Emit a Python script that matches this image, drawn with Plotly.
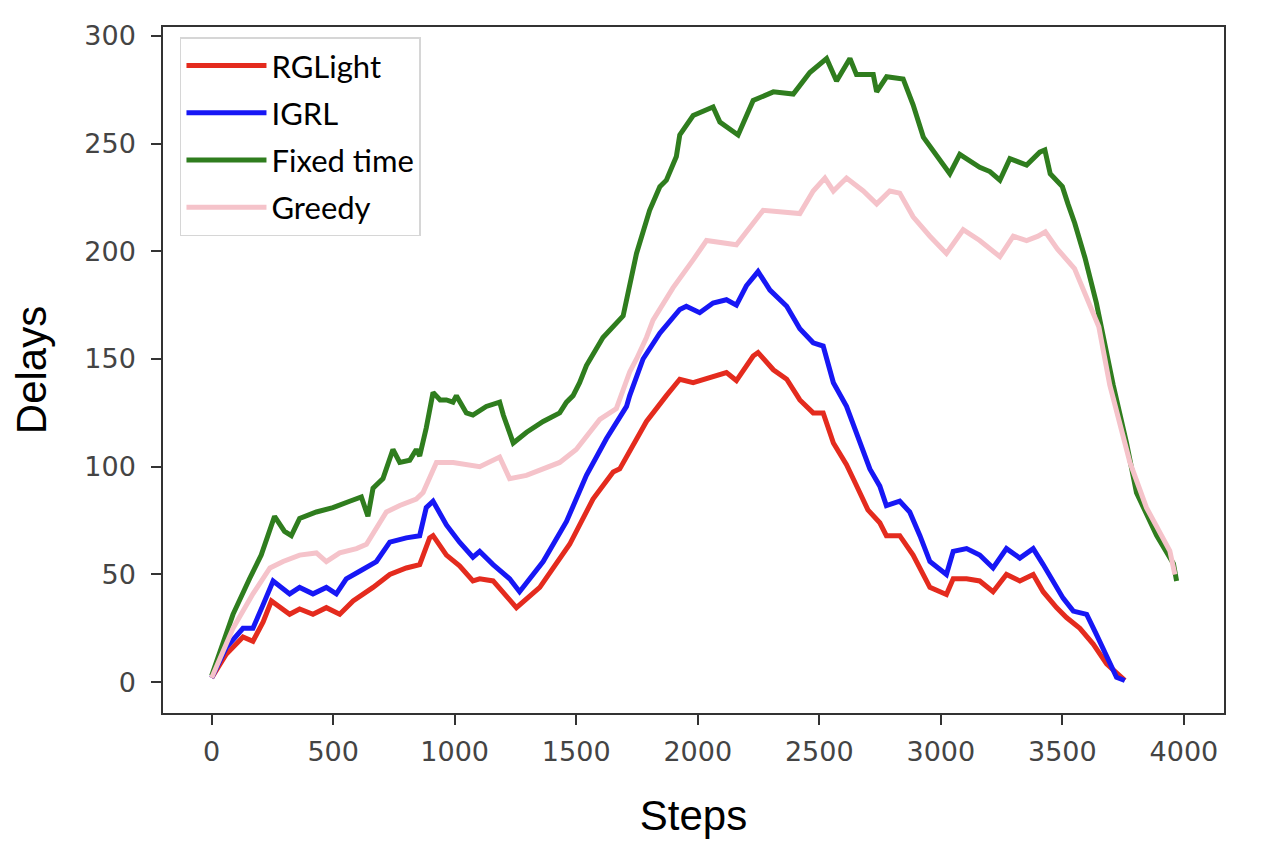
import plotly.graph_objects as go

# values (steps -> delays)
steps_rglight = [0, 60, 129, 170, 212, 246, 321, 362, 417, 472, 527, 582, 664, 733, 801, 856, 897, 911,
                 966, 1020, 1075, 1103, 1158, 1254, 1350, 1473, 1569, 1652, 1679, 1761, 1789, 1871, 1926,
                 1981, 2063, 2118, 2159, 2228, 2248, 2311, 2366, 2420, 2475, 2516, 2558, 2612, 2650, 2700,
                 2749, 2776, 2831, 2886, 2955, 3023, 3051, 3106, 3160, 3215, 3270, 3325, 3380, 3421, 3476,
                 3517, 3572, 3627, 3682, 3737, 3757]
delays_rglight = [2, 13, 21, 19, 28, 37.7, 31.5, 34, 31.5, 34.6, 31.5, 37.7, 44, 50, 53, 54.6, 67, 68,
                  59, 54, 47, 48, 47, 34.6, 44, 64, 85, 97.6, 99, 116, 121, 133, 140.6,
                  139, 142, 143.7, 140, 151.4, 153, 145, 140.6, 131, 125, 125, 111, 101, 92, 80,
                  74, 68, 68, 59, 44, 40.7, 48, 48, 47, 42, 50, 47, 50, 42, 34.6,
                  30, 25, 17.7, 8.5, 2.3, 0.8]

steps_igrl = [0, 60, 129, 170, 212, 253, 321, 362, 417, 472, 513, 554, 609, 678, 733, 801, 856, 883, 911,
              966, 1020, 1075, 1103, 1158, 1226, 1267, 1364, 1460, 1542, 1624, 1707, 1720, 1775, 1844,
              1926, 1953, 2008, 2063, 2118, 2159, 2200, 2248, 2297, 2366, 2420, 2475, 2516, 2558, 2612,
              2667, 2708, 2749, 2776, 2831, 2872, 2914, 2955, 3023, 3051, 3106, 3160, 3215, 3270, 3325,
              3380, 3421, 3463, 3503, 3545, 3600, 3641, 3682, 3723, 3757]
delays_igrl = [2, 16, 25, 25, 36, 47, 41, 44, 41, 44, 41, 48, 51.5, 56, 65, 67, 68, 81, 84,
               73, 65, 58, 60.7, 54.6, 48, 42, 56, 74.6, 96, 113, 128, 133, 150, 162,
               173, 174.5, 171.5, 176, 177.5, 175, 184, 190.6, 182, 174.5, 164, 157.5, 156, 139, 128,
               111, 99, 91, 82, 84, 79, 68, 56, 50, 60.7, 62, 59, 53, 62, 57.6,
               62, 54.6, 47, 39, 33, 31.5, 22, 11.5, 2.3, 0.8]

steps_fixed = [0, 50, 88, 156, 204, 259, 300, 328, 362, 431, 499, 568, 616, 643, 664, 705, 746, 774, 815,
               842, 856, 883, 911, 940, 966, 993, 1007, 1048, 1075, 1130, 1185, 1200, 1241, 1296, 1364,
               1432, 1460, 1487, 1514, 1542, 1610, 1693, 1748, 1802, 1844, 1871, 1912, 1926, 1981, 2063,
               2091, 2166, 2228, 2311, 2393, 2461, 2530, 2571, 2626, 2653, 2722, 2736, 2777, 2845, 2886,
               2928, 2983, 3037, 3078, 3160, 3202, 3243, 3284, 3353, 3407, 3428, 3450, 3500, 3523, 3551,
               3593, 3621, 3640, 3709, 3764, 3805, 3888, 3957, 3970]
delays_fixed = [3, 20, 31.5, 48, 59, 77, 70, 68, 76, 79, 81, 84, 86, 77, 90, 94.5, 108, 102, 103,
                108, 105, 118, 134.5, 131, 131, 130, 133, 125, 124, 128, 130, 124, 111, 116, 121,
                125, 130, 133, 139, 147, 160, 170, 199, 219, 230, 233, 244, 254, 263, 267,
                260, 254, 270, 274, 273, 283, 289.5, 279, 289.5, 282, 282, 274, 281, 280, 268,
                253, 244, 236, 245, 239, 237, 233, 243, 240, 246, 247, 236, 230, 222, 213,
                197, 183, 176, 138, 111, 88, 68, 55, 47]

steps_greedy = [0, 88, 170, 240, 294, 362, 431, 472, 527, 596, 637, 678, 719, 774, 842, 870, 925, 994,
                1048, 1103, 1185, 1226, 1295, 1432, 1500, 1597, 1665, 1720, 1748, 1789, 1816, 1898, 1981,
                2036, 2159, 2200, 2269, 2420, 2475, 2523, 2558, 2612, 2681, 2736, 2790, 2831, 2886, 2955,
                3023, 3092, 3160, 3243, 3298, 3353, 3400, 3430, 3480, 3550, 3606, 3650, 3695, 3778, 3846,
                3942, 3963]
delays_greedy = [2, 25, 41, 53, 56, 59, 60, 56, 60, 62, 64, 71.5, 79, 82, 85, 88, 102, 102,
                 101, 100, 104.5, 94.5, 96, 102, 108, 122, 127, 144, 150, 160, 168, 183, 196,
                 205, 203, 209, 219, 217.5, 228, 234, 228, 234, 228, 222, 228, 227, 216, 207,
                 199, 210, 205, 197.5, 207, 205, 207, 209, 201, 192, 176, 165, 138, 102, 81,
                 61, 50]

x_ticks = [0, 500, 1000, 1500, 2000, 2500, 3000, 3500, 4000]
y_ticks = [0, 50, 100, 150, 200, 250, 300]

series = [
    ("RGLight", steps_rglight, delays_rglight, "#e42b1e"),
    ("IGRL", steps_igrl, delays_igrl, "#1717f5"),
    ("Fixed time", steps_fixed, delays_fixed, "#2f7d1e"),
    ("Greedy", steps_greedy, delays_greedy, "#f5c3ca"),
]

fig = go.Figure()
for name, xs, ys, color in series:
    fig.add_trace(go.Scatter(x=xs, y=ys, mode="lines", name=name, legendgroup=name,
                             line=dict(color=color, width=5)))

axis_style = dict(
    showline=True, linecolor="#333333", linewidth=1.5, mirror=True,
    ticks="outside", ticklen=10, tickwidth=1.5, tickcolor="#333333",
    showgrid=False, zeroline=False,
    tickfont=dict(family="DejaVu Sans", size=27, color="#444444"),
)
title_font = dict(family="Liberation Sans", size=42, color="black")

# the page body adds an 8px offset, margins compensate for it
fig.update_layout(
    width=1286, height=844,
    margin=dict(l=155, r=70, t=14, b=139),
    plot_bgcolor="white", paper_bgcolor="white",
    xaxis=dict(range=[-200, 4165], tickvals=x_ticks, ticklabelstandoff=4,
               title=dict(text="Steps", font=title_font, standoff=34),
               **axis_style),
    yaxis=dict(range=[-14.3, 304.1], tickvals=y_ticks, ticklabelstandoff=10,
               title=dict(text="Delays", font=title_font, standoff=30),
               **axis_style),
    legend=dict(x=0.016, y=0.985, xanchor="left", yanchor="top",
                font=dict(family="Lato", size=31, color="black"),
                bgcolor="white", bordercolor="#d6d6d6", borderwidth=1.5,
                tracegroupgap=4, itemwidth=80),
    showlegend=True,
)

fig.write_html("out.html")
